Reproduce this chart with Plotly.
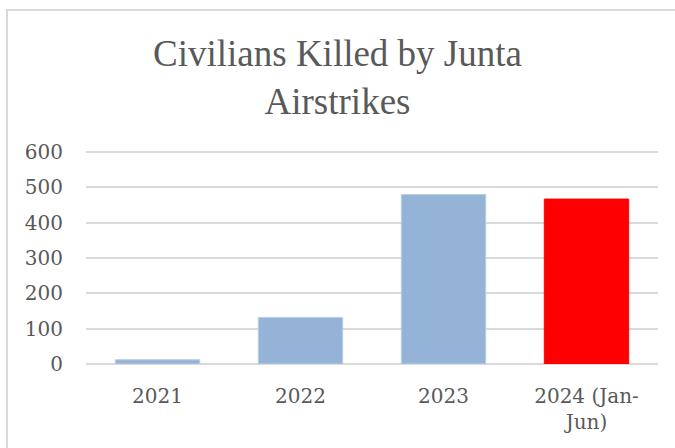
import plotly.graph_objects as go

categories = ["2021", "2022", "2023", "2024 (Jan-<br>Jun)"]
values = [12, 132, 480, 467]
colors = ["#95b3d7", "#95b3d7", "#95b3d7", "#ff0000"]
y_ticks = [0, 100, 200, 300, 400, 500, 600]

TITLE_FONT = "Liberation Serif"
TICK_FONT = "DejaVu Serif"
GRAY = "#595959"

fig = go.Figure(
    go.Bar(
        x=categories,
        y=values,
        marker=dict(color=colors, line=dict(color=["#b9cde5", "#b9cde5", "#b9cde5", "#ff0000"], width=1)),
        width=0.59,
    )
)

fig.update_layout(
    width=675,
    height=448,
    margin=dict(l=86, r=17, t=150, b=84),
    paper_bgcolor="white",
    plot_bgcolor="white",
    showlegend=False,
    title=dict(
        text="Civilians Killed by Junta<br>Airstrikes",
        x=0.5,
        xanchor="center",
        y=1 - 66 / 448,
        yanchor="bottom",
        font=dict(family=TITLE_FONT, size=37, color=GRAY),
    ),
    font=dict(family=TICK_FONT, size=20, color=GRAY),
    xaxis=dict(
        showgrid=False,
        showline=False,
        ticks="",
        ticklabelstandoff=18,
        tickfont=dict(family=TICK_FONT, size=20, color=GRAY),
    ),
    yaxis=dict(
        range=[0, 606],
        tickvals=y_ticks,
        showgrid=True,
        gridcolor="#d9d9d9",
        gridwidth=1.5,
        zeroline=True,
        zerolinecolor="#d9d9d9",
        zerolinewidth=1.5,
        showline=False,
        ticks="",
        ticklabelstandoff=22,
        tickfont=dict(family=TICK_FONT, size=20, color=GRAY),
    ),
    shapes=[
        dict(
            type="rect",
            xref="paper",
            yref="paper",
            x0=-79 / 572,
            x1=1 + 40 / 572,
            y0=-100 / 214,
            y1=1 + 140 / 214,
            line=dict(color="#d9d9d9", width=2),
            fillcolor="rgba(0,0,0,0)",
            layer="below",
        )
    ],
)

fig.write_html("out.html")
